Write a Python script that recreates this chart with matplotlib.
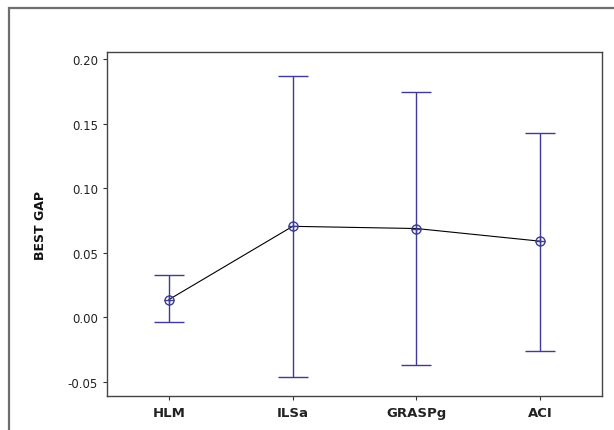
import matplotlib
matplotlib.use("Agg")
import matplotlib.pyplot as plt
from matplotlib.patches import Rectangle

# interval plot values
methods = ["HLM", "ILSa", "GRASPg", "ACI"]
means = [0.0138, 0.0705, 0.0688, 0.0590]
upper = [0.0325, 0.1870, 0.1745, 0.1430]
lower = [-0.0035, -0.0460, -0.0365, -0.0260]

bar_color = "#3c3c96"

fig = plt.figure(figsize=(6.14, 4.31), dpi=100)
ax = fig.add_axes([0.1743, 0.0789, 0.8062, 0.7981])

x = list(range(len(methods)))
err_lo = [m - l for m, l in zip(means, lower)]
err_hi = [u - m for m, u in zip(means, upper)]

# black connecting line between the means
ax.plot(x, means, color="black", linewidth=0.8, zorder=2)

# interval bars
ax.errorbar(x, means, yerr=[err_lo, err_hi], fmt="none", ecolor=bar_color,
            elinewidth=1.0, capsize=11, capthick=1.0, zorder=3)

# circle-plus markers at the means
ax.plot(x, means, linestyle="none", marker="o", markersize=6.5,
        markerfacecolor="none", markeredgecolor=bar_color, markeredgewidth=1.0, zorder=4)
ax.plot(x, means, linestyle="none", marker="+", markersize=6.5,
        markeredgecolor=bar_color, markeredgewidth=1.0, zorder=4)

ax.set_xlim(-0.5, 3.5)
ax.set_ylim(-0.0608, 0.2054)
ax.set_yticks([-0.05, 0.0, 0.05, 0.10, 0.15, 0.20])
ax.set_yticklabels(["-0.05", "0.00", "0.05", "0.10", "0.15", "0.20"])
ax.set_xticks(x)
ax.set_xticklabels(methods, fontweight="bold", fontsize=9.5)

ax.tick_params(axis="y", labelsize=8.5, length=3, width=0.8, colors="#333333", labelcolor="#222222")
ax.tick_params(axis="x", length=3, width=0.8, colors="#333333", labelcolor="#222222", pad=4)

for s in ax.spines.values():
    s.set_color("#444444")
    s.set_linewidth(1.0)

fig.text(40 / 614, 1 - 225 / 431, "BEST GAP", rotation=90, fontweight="bold",
         fontsize=9, ha="center", va="center", color="#111111")

# outer frame around the graph
frame = Rectangle((9 / 614, -0.05), 1.0, 1 - 9 / 431 + 0.05, transform=fig.transFigure,
                  fill=False, edgecolor="#6e6e6e", linewidth=1.6)
fig.patches.append(frame)

fig.savefig("out.png", dpi=100)
